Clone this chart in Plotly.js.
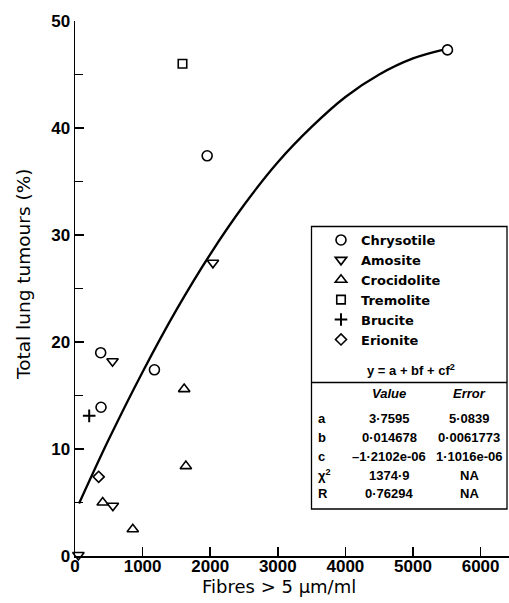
<!DOCTYPE html>
<html>
<head>
<meta charset="utf-8">
<script src="https://cdn.plot.ly/plotly-3.0.1.min.js"></script>
<style>html,body{margin:0;padding:0;background:#fff;}#chart{width:509px;height:603px;}</style>
</head>
<body>
<div id="chart"></div>
<script>
// ---- data ----
const chrysotileX = [5510, 1955, 1175, 380, 385];
const chrysotileY = [47.3, 37.4, 17.4, 19.0, 13.9];
const amositeX = [555, 560, 2040, 50];
const amositeY = [18.2, 4.7, 27.4, 0.1];
const crocidoliteX = [1615, 1640, 410, 855];
const crocidoliteY = [15.6, 8.4, 5.0, 2.5];
const tremoliteX = [1590];
const tremoliteY = [46.0];
const bruciteX = [210];
const bruciteY = [13.1];
const erioniteX = [350];
const erioniteY = [7.4];
// fitted curve
const fitX = [60, 500, 1000, 1500, 2000, 2500, 3000, 3500, 4000, 4500, 5000, 5440];
const fitY = [4.9, 10.9, 17.2, 23.0, 28.2, 32.8, 36.8, 40.1, 42.9, 45.0, 46.5, 47.3];
// table in the legend box
const equationText = 'y = a + bf + cf<sup>2</sup>';
const tableHeader = ['Value', 'Error'];
const paramNames = ['a', 'b', 'c', 'χ<sup>2</sup>', 'R'];
const paramValues = ['3·7595', '0·014678', '–1·2102e-06', '1374·9', '0·76294'];
const paramErrors = ['5·0839', '0·0061773', '1·1016e-06', 'NA', 'NA'];
const xTickVals = [0, 1000, 2000, 3000, 4000, 5000, 6000];
const yTickVals = [0, 10, 20, 30, 40, 50];

// ---- layout geometry (pixels) ----
const L = 75, R = 509, T = 21, B = 556;
const W = R - L, H = B - T;
const px = p => (p - L) / W;
const py = p => (B - p) / H;

function pts(name, x, y, symbol, size) {
  return {type: 'scatter', mode: 'markers', name: name, x: x, y: y, cliponaxis: false,
    marker: {symbol: symbol, size: size, color: 'black', line: {color: 'black', width: 1.6}}};
}
const traces = [
  {type: 'scatter', mode: 'lines', x: fitX, y: fitY, showlegend: false, hoverinfo: 'skip',
   line: {color: 'black', width: 2.3, shape: 'spline', smoothing: 1}},
  pts('Chrysotile', chrysotileX, chrysotileY, 'circle-open', 10),
  pts('Amosite', amositeX, amositeY, 'triangle-down-open', 10),
  pts('Crocidolite', crocidoliteX, crocidoliteY, 'triangle-up-open', 10),
  pts('Tremolite', tremoliteX, tremoliteY, 'square-open', 8.5),
  pts('Brucite', bruciteX, bruciteY, 'cross-thin-open', 9),
  pts('Erionite', erioniteX, erioniteY, 'diamond-open', 8.5)
];
traces[5].marker.line.width = 2;

const tblFont = {family: 'Liberation Sans, Arial, sans-serif', size: 13, color: 'black', weight: 'bold'};
const annotations = [];
function ann(text, x, y, xanchor, font, extra) {
  annotations.push(Object.assign({xref: 'paper', yref: 'paper', x: px(x), y: py(y), text: text,
    showarrow: false, xanchor: xanchor, yanchor: 'middle', font: font}, extra || {}));
}
// axis titles
ann('Total lung tumours (%)', 23, 275, 'center', {family: 'DejaVu Sans, sans-serif', size: 18.5, color: 'black'}, {textangle: -90});
ann('Fibres > 5 µm/ml', 279, 586, 'center', {family: 'DejaVu Sans, sans-serif', size: 18, color: 'black'});
// equation + table
ann(equationText, 411, 370, 'center', tblFont);
ann('<i>' + tableHeader[0] + '</i>', 389, 393, 'center', tblFont);
ann('<i>' + tableHeader[1] + '</i>', 469, 393, 'center', tblFont);
const rowY = [418, 437, 456, 475, 494];
paramNames.forEach((n, i) => {
  ann(n, 316, rowY[i], 'left', tblFont);
  ann(paramValues[i], 389, rowY[i], 'center', tblFont);
  ann(paramErrors[i], 469, rowY[i], 'center', tblFont);
});

const shapes = [
  {type: 'rect', xref: 'paper', yref: 'paper', x0: px(311.5), x1: px(507), y0: py(509), y1: py(226.5),
   line: {color: 'black', width: 1.3}, fillcolor: 'rgba(0,0,0,0)'},
  {type: 'line', xref: 'paper', yref: 'paper', x0: px(311.5), x1: px(507), y0: py(382.5), y1: py(382.5),
   line: {color: 'black', width: 1.3}}
];

const tickFont = {family: 'Liberation Sans, Arial, sans-serif', size: 17, color: 'black', weight: 'bold'};
const layout = {
  width: 509, height: 603,
  margin: {l: L, r: 509 - R, t: T, b: 603 - B, pad: 0},
  paper_bgcolor: 'white', plot_bgcolor: 'white',
  showlegend: true,
  legend: {x: px(321), y: py(225), xanchor: 'left', yanchor: 'top', bgcolor: 'rgba(0,0,0,0)',
    borderwidth: 0, font: {family: 'DejaVu Sans, sans-serif', size: 13, color: 'black', weight: 'bold'}},
  xaxis: {range: [0, 6420], tickvals: xTickVals, ticktext: xTickVals.map(String), showgrid: false, zeroline: false,
    showline: true, linecolor: 'black', linewidth: 1.5, ticks: 'inside', ticklen: 9, tickwidth: 1.5,
    tickcolor: 'black', tickfont: tickFont, ticklabelstandoff: -6},
  yaxis: {range: [0, 50], tickvals: yTickVals, ticktext: yTickVals.map(String), showgrid: false, zeroline: false,
    showline: true, linecolor: 'black', linewidth: 1.5, ticks: 'inside', ticklen: 9, tickwidth: 1.5,
    tickcolor: 'black', tickfont: tickFont,
    minor: {tickvals: [5, 15, 25, 35, 45], ticks: 'inside', ticklen: 8, tickwidth: 1.5, tickcolor: 'black', showgrid: false}},
  shapes: shapes,
  annotations: annotations
};
Plotly.newPlot('chart', traces, layout, {displayModeBar: false, staticPlot: true});
</script>
</body>
</html>
